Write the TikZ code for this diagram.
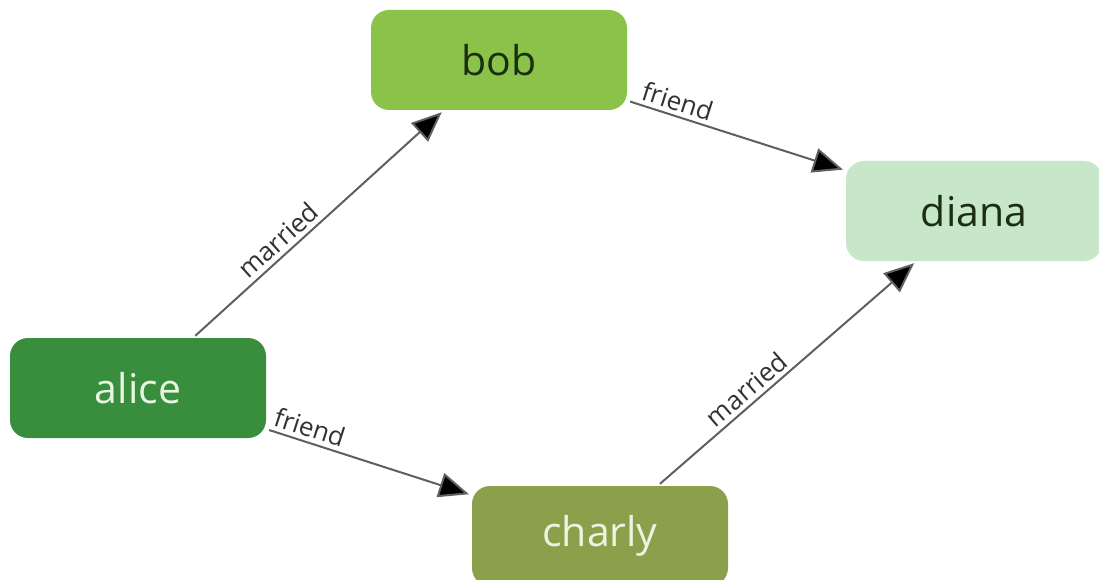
\documentclass[tikz,border=0pt]{standalone}
\usepackage{fontspec}
\setmainfont{Open Sans}
\usetikzlibrary{arrows.meta}
\definecolor{bobc}{RGB}{139,195,74}
\definecolor{alicec}{RGB}{56,142,60}
\definecolor{charlyc}{RGB}{139,160,74}
\definecolor{dianac}{RGB}{200,230,201}
\definecolor{darktxt}{RGB}{26,46,16}
\definecolor{lighttxt}{RGB}{232,245,225}
\definecolor{edgec}{RGB}{95,95,95}
\definecolor{labc}{RGB}{50,50,50}
\tikzset{
  person/.style={rounded corners=18pt, minimum width=256pt, minimum height=100pt,
    inner sep=0pt, font=\fontsize{41pt}{41pt}\selectfont},
  rel/.style={draw=edgec, line width=2pt, shorten <=3pt, shorten >=3pt,
    -{Triangle[length=30pt,width=25pt,fill=black]}},
  rellabel/.style={sloped, above, inner sep=4pt, text=labc,
    font=\fontsize{26pt}{26pt}\selectfont}
}
\begin{document}
\begin{tikzpicture}[x=1pt,y=-1pt]
\useasboundingbox (0,0) rectangle (1099,580);
\node[person, fill=bobc, text=darktxt] (bob) at (499,60) {bob};
\node[person, fill=dianac, text=darktxt] (diana) at (974,211) {diana};
\node[person, fill=alicec, text=lighttxt] (alice) at (138,388) {alice};
\node[person, fill=charlyc, text=lighttxt] (charly) at (600,536) {charly};
\draw[rel] (alice) -- node[rellabel, pos=0.38] {married} (bob);
\draw[rel] (bob) -- node[rellabel, pos=0.21] {friend} (diana);
\draw[rel] (alice) -- node[rellabel, pos=0.19] {friend} (charly);
\draw[rel] (charly) -- node[rellabel, pos=0.38] {married} (diana);
\end{tikzpicture}
\end{document}
